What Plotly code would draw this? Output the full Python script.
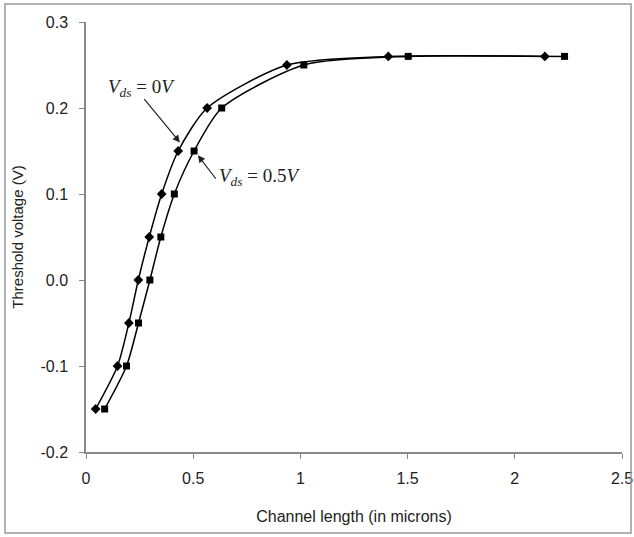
import plotly.graph_objects as go

# Vds = 0 V (diamonds)
x_vds0 = [0.045, 0.147, 0.200, 0.244, 0.295, 0.353, 0.430, 0.565, 0.937, 1.41, 2.14]
y_vds0 = [-0.15, -0.10, -0.05, 0.00, 0.05, 0.10, 0.15, 0.20, 0.25, 0.26, 0.26]
# Vds = 0.5 V (squares)
x_vds05 = [0.087, 0.189, 0.245, 0.298, 0.349, 0.412, 0.504, 0.633, 1.016, 1.503, 2.232]
y_vds05 = [-0.15, -0.10, -0.05, 0.00, 0.05, 0.10, 0.15, 0.20, 0.25, 0.26, 0.26]

x_ticks = [0, 0.5, 1, 1.5, 2, 2.5]
x_tick_labels = ["0", "0.5", "1", "1.5", "2", "2.5"]
y_ticks = [-0.2, -0.1, 0.0, 0.1, 0.2, 0.3]
y_tick_labels = ["-0.2", "-0.1", "0.0", "0.1", "0.2", "0.3"]

fig = go.Figure()
fig.add_trace(go.Scatter(x=x_vds0, y=y_vds0, mode="lines+markers",
                         line=dict(color="black", width=1.5, shape="spline", smoothing=0.7),
                         marker=dict(symbol="diamond", size=7.5, color="black"),
                         name="Vds = 0 V"))
fig.add_trace(go.Scatter(x=x_vds05, y=y_vds05, mode="lines+markers",
                         line=dict(color="black", width=1.5, shape="spline", smoothing=0.7),
                         marker=dict(symbol="square", size=7, color="black"),
                         name="Vds = 0.5 V"))

ann_font = dict(family="Liberation Serif", size=19, color="#222")
# arrows
fig.add_annotation(x=0.438, y=0.160, ax=0.266, ay=0.212, axref="x", ayref="y",
                   xref="x", yref="y", text="", showarrow=True, arrowhead=2,
                   arrowsize=1.2, arrowwidth=1.2, arrowcolor="#222")
fig.add_annotation(x=0.522, y=0.145, ax=0.611, ay=0.116, axref="x", ayref="y",
                   xref="x", yref="y", text="", showarrow=True, arrowhead=2,
                   arrowsize=1.2, arrowwidth=1.2, arrowcolor="#222")
# labels
fig.add_annotation(x=0.257, y=0.223, xref="x", yref="y", showarrow=False,
                   text="<i>V</i><sub><i>ds</i></sub> = 0<i>V</i>", font=ann_font)
fig.add_annotation(x=0.807, y=0.120, xref="x", yref="y", showarrow=False,
                   text="<i>V</i><sub><i>ds</i></sub> = 0.5<i>V</i>", font=ann_font)

# outer border (plot area spans 86..622 x 22..452 px)
fig.add_shape(type="rect", xref="paper", yref="paper",
              x0=(5 - 86) / 536, x1=(631 - 86) / 536,
              y0=(452 - 533) / 430, y1=(452 - 4) / 430,
              line=dict(color="#999999", width=1.5), layer="above")

axis_common = dict(showgrid=False, zeroline=False, showline=True, linecolor="#888", linewidth=1.5,
                   ticks="outside", ticklen=5, tickcolor="#888", automargin=False,
                   tickfont=dict(family="Liberation Sans", size=16, color="#222"))
fig.update_xaxes(range=[0, 2.5], tickvals=x_ticks, ticktext=x_tick_labels, ticklabelstandoff=6,
                 title=dict(text="Channel length (in microns)", standoff=25,
                            font=dict(family="Liberation Sans", size=16, color="#222")),
                 **axis_common)
fig.update_yaxes(range=[-0.2, 0.3], tickvals=y_ticks, ticktext=y_tick_labels, ticklabelstandoff=8,
                 title=dict(text="Threshold voltage (V)", standoff=13,
                            font=dict(family="Liberation Sans", size=15, color="#222")),
                 **axis_common)

fig.update_layout(width=634, height=537, margin=dict(l=86, r=12, t=22, b=85),
                  plot_bgcolor="white", paper_bgcolor="white", showlegend=False)

fig.write_html("out.html", config={"displayModeBar": False},
               post_script="document.body.style.margin='0px';")
